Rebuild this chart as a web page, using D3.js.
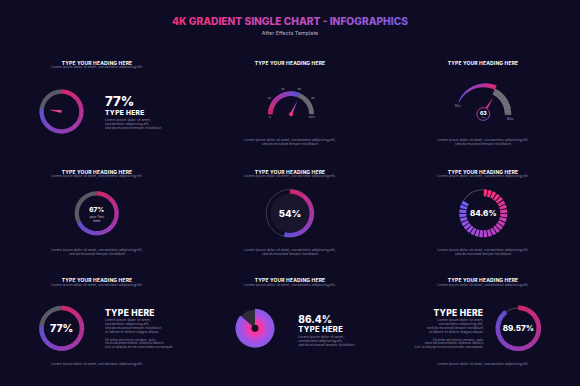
<!DOCTYPE html>
<html lang="en">
<head>
  <meta charset="UTF-8">
  <title>4K Gradient Single Chart - Infographics</title>
  <style>
    html, body { margin: 0; padding: 0; background: #0e0b25; }
    svg { display: block; }
    text { font-family: Inter, "Open Sans", sans-serif; }
    .head { fill: #fff; font-weight: 700; font-size: 5px; text-anchor: middle; letter-spacing: 0.15px; }
    .sub { fill: #8c87a3; font-size: 3.5px; }
    .big { fill: #fff; font-weight: 800; }
  </style>
</head>
<body>
  <svg id="chart"></svg>

  <script src="https://d3js.org/d3.v7.min.js"></script>
  <script>
    // values shown in each panel (percent)
    const panelTitles = ["TYPE YOUR HEADING HERE", "TYPE YOUR HEADING HERE", "TYPE YOUR HEADING HERE",
                         "TYPE YOUR HEADING HERE", "TYPE YOUR HEADING HERE", "TYPE YOUR HEADING HERE",
                         "TYPE YOUR HEADING HERE", "TYPE YOUR HEADING HERE", "TYPE YOUR HEADING HERE"];
    const panelValues = [77, 62, 63, 67, 54, 84.6, 77, 86.4, 89.57];
    const panelLabels = ["77%", "", "63", "67%", "54%", "84.6%", "77%", "86.4%", "89.57%"];
    const gaugeTicks = [0, 20, 40, 60, 80, 100];
    const gaugeTickLabels = ["0", "20", "40", "60", "80", "100%"];
    const loremShort = "Lorem ipsum dolor sit amet, consectetur adipiscing elit.";
    const loremTwo = ["Lorem ipsum dolor sit amet, consectetur adipiscing elit,", "sed do eiusmod tempor incididunt"];
    const loremThree = ["Lorem ipsum dolor sit amet,", "consectetur adipiscing elit,", "sed do eiusmod tempor incididunt"];
    const loremSeven = ["Lorem ipsum dolor sit amet,", "consectetur adipiscing elit,", "sed do eiusmod tempor incididunt",
                        "ut labore et dolore magna aliqua.", "", "Ut enim ad minim veniam, quis",
                        "nostrud exercitation ullamco laboris", "nisi ut aliquip ex ea commodo consequat."];

    const W = 580, H = 386;
    const BG = "#0e0b25", GRAY = "#5d5a68";
    const svg = d3.select("#chart").attr("width", W).attr("height", H);
    svg.append("rect").attr("width", W).attr("height", H).attr("fill", BG);

    const defs = svg.append("defs");
    const pinkBlue = d3.interpolateRgbBasis(["#fb2e78", "#d53aa8", "#a84ade", "#6c62f2"]);
    const purplePink = d3.interpolateRgbBasis(["#7a5ae8", "#b048d8", "#f2307e"]);
    const pct = d3.scaleLinear().domain([0, 100]).range([0, 2 * Math.PI]);
    const arc = d3.arc();

    // title
    const tg = defs.append("linearGradient").attr("id", "titleGrad");
    tg.append("stop").attr("offset", "0%").attr("stop-color", "#f2307a");
    tg.append("stop").attr("offset", "55%").attr("stop-color", "#c04ec0");
    tg.append("stop").attr("offset", "100%").attr("stop-color", "#7b5de6");
    svg.append("text").attr("x", 290).attr("y", 25).attr("text-anchor", "middle")
      .attr("font-size", 10.2).attr("font-weight", 800).attr("fill", "url(#titleGrad)")
      .text("4K GRADIENT SINGLE CHART - INFOGRAPHICS");
    svg.append("text").attr("x", 290).attr("y", 34.5).attr("text-anchor", "middle")
      .attr("font-size", 5.4).attr("fill", "#b6b0c8").text("After Effects Template");

    // helpers
    function gradArc(g, r0, r1, a0, a1, interp, r1end) {
      const n = Math.max(2, Math.ceil(Math.abs(a1 - a0) / 0.02));
      const step = (a1 - a0) / n;
      for (let i = 0; i < n; i++) {
        const t = i / (n - 1);
        const outer = r1end === undefined ? r1 : r1 + (r1end - r1) * t;
        g.append("path")
          .attr("d", arc({ innerRadius: r0, outerRadius: outer, startAngle: a0 + i * step, endAngle: a0 + (i + 1) * step + 0.006 }))
          .attr("fill", interp(t));
      }
    }
    function heading(x, y, t, withSub) {
      svg.append("text").attr("class", "head").attr("x", x).attr("y", y).text(t);
      if (withSub) svg.append("text").attr("class", "sub").attr("x", x).attr("y", y + 3.8)
        .attr("text-anchor", "middle").text(loremShort);
    }
    function lines(x, y, arr, anchor, dy) {
      arr.forEach((s, i) => {
        svg.append("text").attr("class", "sub").attr("x", x).attr("y", y + i * dy)
          .attr("text-anchor", anchor).text(s);
      });
    }
    function bigText(x, y, s, size, anchor) {
      return svg.append("text").attr("class", "big").attr("x", x).attr("y", y)
        .attr("font-size", size).attr("text-anchor", anchor || "middle").text(s);
    }
    function donut(cx, cy, r0, r1, v, grayThin) {
      const g = svg.append("g").attr("transform", `translate(${cx},${cy})`);
      if (grayThin) {
        g.append("path").attr("d", arc({ innerRadius: r1 - 2.6, outerRadius: r1 - 1.9, startAngle: pct(v), endAngle: 2 * Math.PI }))
          .attr("fill", GRAY);
      } else {
        g.append("path").attr("d", arc({ innerRadius: r0, outerRadius: r1, startAngle: pct(v), endAngle: 2 * Math.PI }))
          .attr("fill", GRAY);
      }
      gradArc(g, r0, r1, 0, pct(v), pinkBlue);
      return g;
    }

    const colX = [97, 290, 483];
    const rowY = [64.5, 173.5, 282];

    // ---------- row 1 ----------
    heading(colX[0], rowY[0], panelTitles[0], true);
    heading(colX[1], rowY[0], panelTitles[1], false);
    heading(colX[2], rowY[0], panelTitles[2], false);

    // panel 1
    const g1 = donut(61.5, 111.5, 17.8, 22, panelValues[0], false);
    const na = pct(panelValues[0]);
    g1.append("path")
      .attr("d", `M${1.6 * Math.cos(na)},${1.6 * Math.sin(na)} L${-1.6 * Math.cos(na)},${-1.6 * Math.sin(na)} L${13 * Math.sin(na)},${-13 * Math.cos(na)} Z`)
      .attr("fill", "#e2458e");
    bigText(105, 106, panelLabels[0], 13.2, "start");
    bigText(105, 115, "TYPE HERE", 6.6, "start").attr("letter-spacing", 0.35);
    lines(105, 121.2, loremThree, "start", 3.9);

    // panel 2 : half gauge
    const gA = d3.scaleLinear().domain([0, 100]).range([-Math.PI / 2, Math.PI / 2]);
    const g2 = svg.append("g").attr("transform", "translate(291,114.3)");
    g2.append("path").attr("d", arc({ innerRadius: 18.3, outerRadius: 23, startAngle: gA(panelValues[1]), endAngle: gA(100) }))
      .attr("fill", "#6b6872");
    gradArc(g2, 18.3, 23, gA(0), gA(panelValues[1]), pinkBlue);
    gaugeTicks.forEach((v, i) => {
      const a = gA(v);
      const end = i === 0 || i === gaugeTicks.length - 1;
      const rr = end ? 21 : 27;
      g2.append("text").attr("x", rr * Math.sin(a)).attr("y", end ? 4.2 : -rr * Math.cos(a) + 1)
        .attr("text-anchor", "middle").attr("font-size", 2.6).attr("fill", "#aaa5bb").text(gaugeTickLabels[i]);
    });
    const n2 = gA(panelValues[1]);
    const ng = defs.append("linearGradient").attr("id", "needle2").attr("x1", "0%").attr("y1", "100%").attr("x2", "0%").attr("y2", "0%");
    ng.append("stop").attr("offset", "0%").attr("stop-color", "#f2307e");
    ng.append("stop").attr("offset", "100%").attr("stop-color", "#7a6cf0");
    g2.append("path").attr("transform", `rotate(${n2 * 180 / Math.PI + 4})`)
      .attr("d", "M-1.2,0 L1.2,0 L0,-15 Z").attr("fill", "url(#needle2)");
    g2.append("circle").attr("r", 2).attr("fill", "#f0307c");
    lines(290, 141, loremTwo, "middle", 4);

    // panel 3 : tapered gauge
    const gB = d3.scaleLinear().domain([0, 100]).range([-64 * Math.PI / 180, 92 * Math.PI / 180]);
    const g3 = svg.append("g").attr("transform", "translate(483.3,114)");
    const grayStart = gB(57);
    const nb = 9;
    const bs = (gB(100) - grayStart) / nb;
    g3.append("path").attr("d", arc({ innerRadius: 21.5, outerRadius: 28, startAngle: grayStart, endAngle: gB(100) }))
      .attr("fill", "#6d6975");
    for (let i = 1; i < nb; i++) {
      g3.append("path").attr("d", arc({ innerRadius: 21.5, outerRadius: 28, startAngle: grayStart + i * bs - 0.006, endAngle: grayStart + i * bs + 0.006 }))
        .attr("fill", "#8a8690");
    }
    gradArc(g3, 26.8, 27.6, gB(0), grayStart, purplePink, 31.5);
    const pg = defs.append("linearGradient").attr("id", "ring3").attr("x1", "0%").attr("y1", "0%").attr("x2", "100%").attr("y2", "100%");
    pg.append("stop").attr("offset", "0%").attr("stop-color", "#f2307e");
    pg.append("stop").attr("offset", "100%").attr("stop-color", "#7a5ae8");
    const n3 = gB(panelValues[2]);
    g3.append("path").attr("transform", `rotate(${n3 * 180 / Math.PI - 4})`)
      .attr("d", "M-1.1,-7 L1.1,-7 L0,-19.5 Z").attr("fill", "#e2378a");
    g3.append("circle").attr("r", 6.4).attr("fill", BG).attr("stroke", "url(#ring3)").attr("stroke-width", 0.9);
    g3.append("text").attr("class", "big").attr("y", 1.2).attr("text-anchor", "middle").attr("font-size", 5.2).text(panelLabels[2]);
    g3.append("text").attr("y", 3.9).attr("text-anchor", "middle").attr("font-size", 1.8).attr("fill", "#aaa").text("Units");
    svg.append("text").attr("x", 458).attr("y", 107).attr("text-anchor", "middle").attr("font-size", 3).attr("fill", "#a09cb0").text("Min.");
    svg.append("text").attr("x", 510.5).attr("y", 120).attr("text-anchor", "middle").attr("font-size", 3).attr("fill", "#a09cb0").text("Max.");
    lines(483, 141, loremTwo, "middle", 4);

    // ---------- row 2 ----------
    heading(colX[0], rowY[1], panelTitles[3], true);
    heading(colX[1], rowY[1], panelTitles[4], true);
    heading(colX[2], rowY[1], panelTitles[5], true);

    // panel 4
    donut(96.7, 213.3, 17.8, 22, panelValues[3], false);
    bigText(96.7, 212, panelLabels[3], 6.5);
    svg.append("text").attr("x", 96.7).attr("y", 218.3).attr("text-anchor", "middle").attr("font-size", 3.3).attr("fill", "#c8c4d6").text("your Text");
    svg.append("text").attr("x", 96.7).attr("y", 222.3).attr("text-anchor", "middle").attr("font-size", 3.3).attr("fill", "#c8c4d6").text("here");

    // panel 5
    const g5 = svg.append("g").attr("transform", "translate(290,213.3)");
    g5.append("circle").attr("r", 19.6).attr("fill", "#19152d");
    g5.append("circle").attr("r", 23.8).attr("fill", "none").attr("stroke", "#5a566c").attr("stroke-width", 0.6);
    gradArc(g5, 19.6, 23.8, 0, pct(panelValues[4]), pinkBlue);
    bigText(290, 216.8, panelLabels[4], 9.5);

    // panel 6 : segmented ring
    const g6 = svg.append("g").attr("transform", "translate(483.3,213.3)");
    const nSeg = 32;
    const segs = d3.range(nSeg);
    const segW = 2 * Math.PI / nSeg;
    const lit = Math.floor(panelValues[5] / 100 * nSeg);
    g6.append("path").attr("d", arc({ innerRadius: 23.2, outerRadius: 24, startAngle: lit * segW, endAngle: 2 * Math.PI }))
      .attr("fill", GRAY);
    g6.selectAll("path.seg").data(segs.filter(i => i < lit)).join("path").attr("class", "seg")
      .attr("d", i => arc({ innerRadius: 17, outerRadius: 24, startAngle: i * segW + 0.022, endAngle: (i + 1) * segW - 0.022 }))
      .attr("fill", i => pinkBlue(i / (lit - 1)));
    bigText(483.3, 216.2, panelLabels[5], 8);

    lines(colX[0], 250.5, loremTwo, "middle", 4);
    lines(colX[1], 250.5, loremTwo, "middle", 4);
    lines(colX[2], 250.5, loremTwo, "middle", 4);

    // ---------- row 3 ----------
    heading(colX[0], rowY[2], panelTitles[6], true);
    heading(colX[1], rowY[2], panelTitles[7], true);
    heading(colX[2], rowY[2], panelTitles[8], true);

    // panel 7
    donut(61.7, 328.3, 18, 22.5, panelValues[6], false);
    bigText(61.7, 332.2, panelLabels[6], 10.5);
    bigText(105, 315.7, "TYPE HERE", 8.5, "start").attr("letter-spacing", 0.3);
    lines(105, 321, loremSeven, "start", 3.9);
    lines(colX[0], 365, [loremShort], "middle", 4);

    // panel 8 : radial pie
    const rg = defs.append("radialGradient").attr("id", "radial8").attr("gradientUnits", "userSpaceOnUse")
      .attr("cx", 0).attr("cy", 0).attr("r", 19.5);
    [[0, "#2a0f35"], [0.16, "#3a1040"], [0.2, "#ff2f8c"], [0.34, "#f03aa8"], [0.55, "#c04ad8"], [0.78, "#9a55e6"], [1, "#8a5ae8"]]
      .forEach(s => rg.append("stop").attr("offset", s[0]).attr("stop-color", s[1]));
    const g8 = svg.append("g").attr("transform", "translate(255,328.3)");
    g8.append("path").attr("d", arc({ innerRadius: 0, outerRadius: 18.5, startAngle: pct(panelValues[7]), endAngle: 2 * Math.PI }))
      .attr("fill", "#2f2c39");
    g8.append("path").attr("d", arc({ innerRadius: 0, outerRadius: 19.5, startAngle: 0, endAngle: pct(panelValues[7]) }))
      .attr("fill", "url(#radial8)");
    g8.append("circle").attr("r", 3.2).attr("fill", "#1c0c26");
    bigText(298.3, 323.4, panelLabels[7], 10, "start");
    bigText(298.3, 332, "TYPE HERE", 7.6, "start").attr("letter-spacing", 0.3);
    lines(298.3, 337.8, loremThree, "start", 4);

    // panel 9
    donut(518.3, 328.3, 18.2, 22.7, panelValues[8], true);
    bigText(518.3, 331.2, panelLabels[8], 8);
    bigText(483.3, 315.7, "TYPE HERE", 8.5, "end").attr("letter-spacing", 0.3);
    lines(483.3, 321, loremSeven, "end", 3.9);
    lines(colX[2], 365, [loremShort], "middle", 4);
  </script>
</body>
</html>
